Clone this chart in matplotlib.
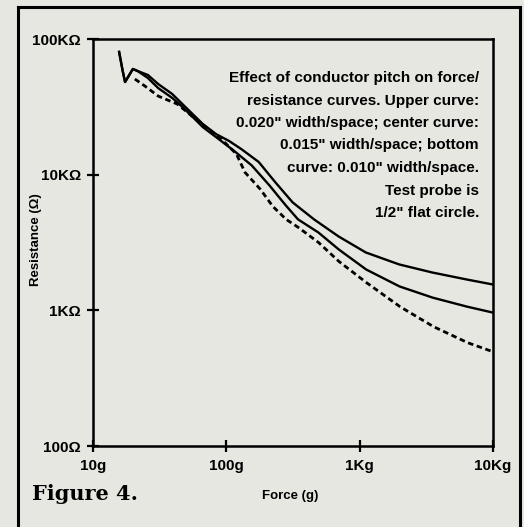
import matplotlib
matplotlib.use('Agg')
import matplotlib.pyplot as plt
from matplotlib.lines import Line2D

# force (g) vs. resistance (ohm) for the three conductor pitches
force_020 = [15.7, 16.7, 17.4, 19.9, 21.6, 25.8, 30.8, 39.3, 46.9, 56, 66.7, 83.8,
             105, 130, 175, 233, 314, 455, 693, 1112, 1977, 3508, 6310, 10000]
res_020 = [80300, 58100, 48200, 60100, 58100, 54300, 46600, 39300, 33100, 27900, 23600, 19900,
           17700, 15400, 12400, 8790, 6250, 4680, 3510, 2670, 2180, 1900, 1690, 1550]

force_015 = [15.7, 16.7, 17.4, 19.9, 21.6, 25.8, 30.8, 39.4, 46.9, 56, 66.7, 83.9,
             115, 155, 210, 279, 345, 490, 697, 1119, 1991, 3532, 6380, 10000]
res_015 = [80300, 58100, 48200, 60100, 58100, 51600, 43500, 36700, 31500, 26600, 22400, 18900,
           14900, 11700, 8360, 5940, 4680, 3750, 2810, 2000, 1500, 1240, 1065, 962]

force_010 = [20.6, 24.5, 30.9, 43, 54.1, 70.3, 91.6, 119, 138, 180, 223, 281,
             346, 492, 700, 1125, 2005, 3580, 6470, 10000]
res_010 = [50700, 45000, 37900, 33100, 27500, 22400, 18300, 14200, 10400, 7800, 5840, 4680,
           4090, 3160, 2290, 1600, 1065, 758, 577, 495]

x_ticks = [10, 100, 1000, 10000]
x_tick_labels = ['10g', '100g', '1Kg', '10Kg']
y_ticks = [100, 1000, 10000, 100000]
y_tick_labels = ['100Ω', '1KΩ', '10KΩ', '100KΩ']

note_lines = [
    'Effect of conductor pitch on force/',
    'resistance curves. Upper curve:',
    '0.020" width/space; center curve:',
    '0.015" width/space; bottom',
    'curve: 0.010" width/space.',
    'Test probe is',
    '1/2" flat circle.',
]

W, H = 524, 527
paper = '#e6e7e1'
sans = ['Liberation Sans', 'DejaVu Sans']


def fx(px):
    return px / W


def fy(py):
    return 1 - py / H


fig = plt.figure(figsize=(W / 100, H / 100), dpi=100, facecolor=paper)
ax = fig.add_axes([fx(93), fy(446), 400 / W, 407 / H])
ax.set_facecolor(paper)

ax.plot(force_020, res_020, color='black', lw=1.7, solid_joinstyle='round')
ax.plot(force_015, res_015, color='black', lw=1.7, solid_joinstyle='round')
ax.plot(force_010, res_010, color='black', lw=2.0, dashes=(2.0, 1.3))

ax.set_xscale('log')
ax.set_yscale('log')
ax.set_xlim(10, 10000)
ax.set_ylim(100, 100000)
ax.minorticks_off()
ax.set_xticks(x_ticks)
ax.set_xticklabels(x_tick_labels)
ax.set_yticks(y_ticks)
ax.set_yticklabels(y_tick_labels)
ax.tick_params(direction='inout', length=9, width=1.6, color='black')
ax.tick_params(axis='x', pad=5)
ax.tick_params(axis='y', pad=4)
for lab in ax.get_xticklabels() + ax.get_yticklabels():
    lab.set_family(sans)
    lab.set_fontweight('bold')
    lab.set_fontsize(11)
for sp in ax.spines.values():
    sp.set_linewidth(1.8)

# axis titles
fig.text(fx(36), fy(240), 'Resistance (Ω)', rotation=90, ha='center', va='center',
         family=sans, fontweight='bold', fontsize=9.5)
fig.text(fx(290), fy(496), 'Force (g)', ha='center', va='center',
         family=sans, fontweight='bold', fontsize=9.5)

# caption block, right aligned inside the plot
for i, line in enumerate(note_lines):
    fig.text(fx(479), fy(82 + 22.5 * i), line, ha='right', va='baseline',
             family=sans, fontweight='bold', fontsize=11)

fig.text(fx(32), fy(494), 'Figure 4.', ha='left', va='center',
         family='DejaVu Serif', fontweight='bold', fontsize=15)

# outer box around the figure (open at the bottom)
frame_kw = dict(color='black', lw=2.2, transform=fig.transFigure)
fig.add_artist(Line2D([fx(18), fx(18)], [fy(7), fy(527)], **frame_kw))
fig.add_artist(Line2D([fx(18), fx(520)], [fy(7), fy(7)], **frame_kw))
fig.add_artist(Line2D([fx(520), fx(520)], [fy(7), fy(527)], **frame_kw))

fig.savefig('out.png', dpi=100, facecolor=paper)
